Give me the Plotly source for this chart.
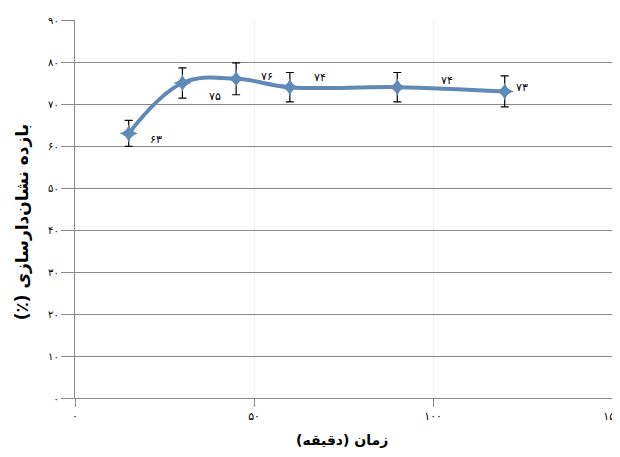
import plotly.graph_objects as go

# ---- data ----
time_min = [15, 30, 45, 60, 90, 120]
efficiency = [63, 75, 76, 74, 74, 73]
error = [3.1, 3.6, 3.8, 3.5, 3.5, 3.7]
x_ticks = [0, 50, 100, 150]
y_ticks = [0, 10, 20, 30, 40, 50, 60, 70, 80, 90]

PERSIAN = str.maketrans("0123456789", "۰۱۲۳۴۵۶۷۸۹")
def fa(v):
    return str(v).translate(PERSIAN)

# label offsets in pixels (style)
label_shift = [(27, -6), (33, -13), (31, 2), (30, 10), (50, 7), (17, 4)]

line_color = "#5f8ab8"

fig = go.Figure()
fig.add_trace(go.Scatter(
    x=time_min, y=efficiency,
    mode="lines+markers",
    line=dict(color=line_color, width=4, shape="spline", smoothing=1.1),
    marker=dict(symbol="star-diamond", size=13, color=line_color),
    error_y=dict(type="data", array=error, visible=True,
                 color="black", thickness=1.2, width=4),
    showlegend=False,
))

annotations = []
for x, y, (dx, dy) in zip(time_min, efficiency, label_shift):
    annotations.append(dict(
        x=x, y=y, xref="x", yref="y", text=fa(y), showarrow=False,
        xshift=dx, yshift=dy,
        font=dict(family="DejaVu Sans", size=11, color="black"),
    ))

x_title = "\u200Fزمان (دقیقه)\u200F"
y_title = "\u200Fبازده نشان‌دارسازی (٪)\u200F"

annotations.append(dict(
    x=0.49, y=-0.085, xref="paper", yref="paper", xanchor="center", yanchor="top",
    text="<b>" + x_title + "</b>", showarrow=False,
    font=dict(family="DejaVu Sans", size=14, color="black"),
))
annotations.append(dict(
    x=-0.097, y=0.465, xref="paper", yref="paper", xanchor="center", yanchor="middle",
    text="<b>" + y_title + "</b>", showarrow=False, textangle=-90,
    font=dict(family="DejaVu Sans", size=17, color="black"),
))

fig.update_layout(
    width=612, height=449,
    margin=dict(l=67, r=0, t=12, b=59),
    paper_bgcolor="white", plot_bgcolor="white",
    annotations=annotations,
    xaxis=dict(
        range=[0, 152.2], tickmode="array", tickvals=x_ticks,
        ticktext=[fa(v) for v in x_ticks],
        ticklabeloverflow="allow",
        showgrid=True, gridcolor="#f0f0f0", gridwidth=1,
        zeroline=False, showline=True, linecolor="#8a8a8a", linewidth=1.3,
        ticks="outside", ticklen=8, tickcolor="#8a8a8a", tickwidth=1.3,
        tickfont=dict(family="DejaVu Sans", size=11, color="black"),
    ),
    yaxis=dict(
        range=[0, 90], tickmode="array", tickvals=y_ticks,
        ticktext=[fa(v) for v in y_ticks],
        showgrid=True, gridcolor="#8a8a8a", gridwidth=1.3,
        zeroline=False, showline=True, linecolor="#8a8a8a", linewidth=1.3,
        ticks="outside", ticklen=13, tickcolor="#8a8a8a", tickwidth=1.3,
        tickfont=dict(family="DejaVu Sans", size=10, color="black"),
    ),
)

fig.write_html("out.html")
